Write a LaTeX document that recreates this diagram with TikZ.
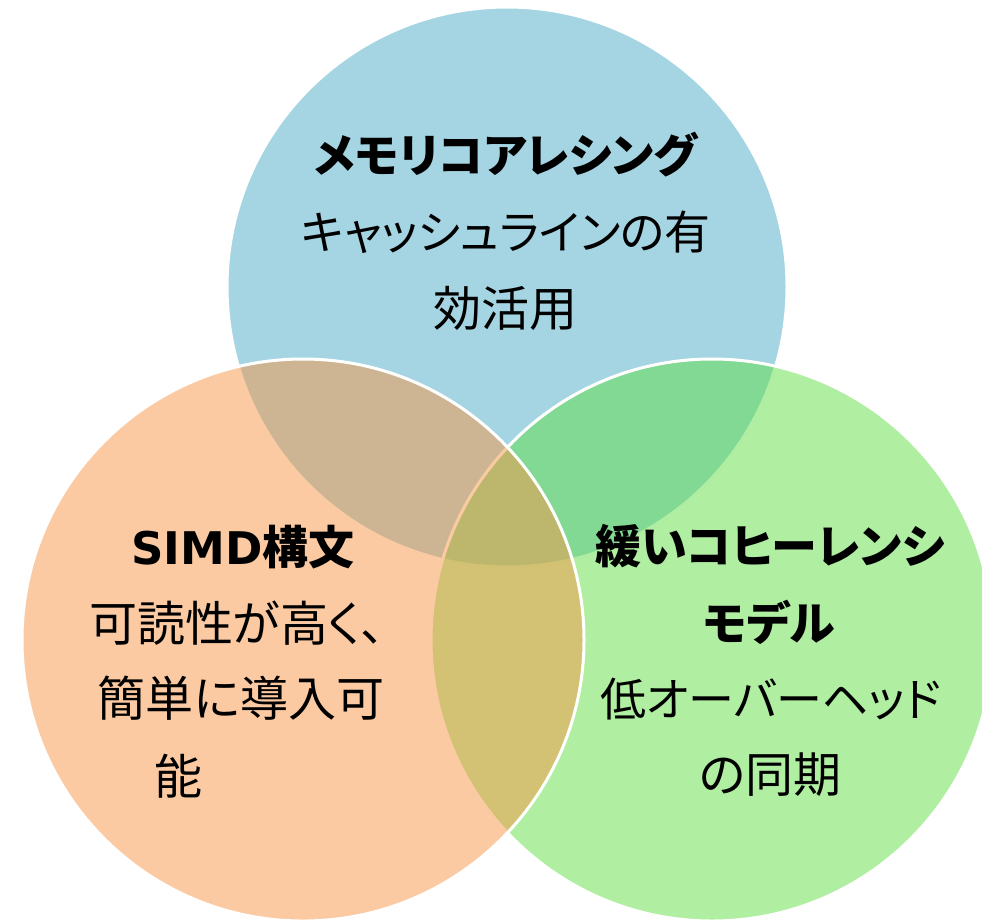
\documentclass[tikz,border=0pt]{standalone}
\usepackage{fontspec}
\setmainfont[RawFeature={+palt}]{Noto Sans CJK JP}
\newfontfamily\latinbold{DejaVu Sans}
\definecolor{blueC}{RGB}{75,172,198}
\definecolor{greenC}{RGB}{97,222,70}
\definecolor{orangeC}{RGB}{247,150,70}
\tikzset{
  venn/.style={circle, inner sep=0pt, outer sep=0pt, minimum size=#1, fill opacity=0.5, draw=white, draw opacity=1, line width=3pt},
  ttl/.style={font=\fontsize{46}{46}\selectfont\bfseries, inner sep=0pt, anchor=center, text=black},
  txt/.style={font=\fontsize{46}{46}\selectfont, inner sep=0pt, anchor=center, text=black},
  kan/.style={font=\fontsize{48}{48}\selectfont, inner sep=0pt, anchor=center, text=black}
}
\begin{document}
\begin{tikzpicture}[x=1pt,y=-1pt]
\useasboundingbox (0,0) rectangle (982,919);
\clip (0,0) rectangle (982,919);
\node[venn=560pt, fill=blueC] (mem) at (507,287) {};
\node[venn=562pt, fill=greenC] (coh) at (712,640) {};
\node[venn=562pt, fill=orangeC] (simd) at (303,640) {};
% blue texts
\node[ttl] (t1) at (506,155) {メモリコアレシング};
\node[txt] (t1a) at (506,232) {キャッシュラインの有};
\node[kan] (t1b) at (505,308) {効活用};
% orange texts
\node[ttl] (t2) at (243,547) {{\latinbold\bfseries\fontsize{45}{45}\selectfont SIMD}構文};
\node[kan] (t2a) at (237,623) {可読性が高く、};
\node[kan] (t2b) at (241,698) {簡単に導入可};
\node[kan] (t2c) at (178,776) {能};
% green texts
\node[ttl] (t3) at (770,546) {緩いコヒーレンシ};
\node[ttl] (t3a) at (769,622) {モデル};
\node[txt] (t3b) at (771,699) {低オーバーヘッド};
\node[kan] (t3c) at (770,775) {の同期};
\end{tikzpicture}
\end{document}
